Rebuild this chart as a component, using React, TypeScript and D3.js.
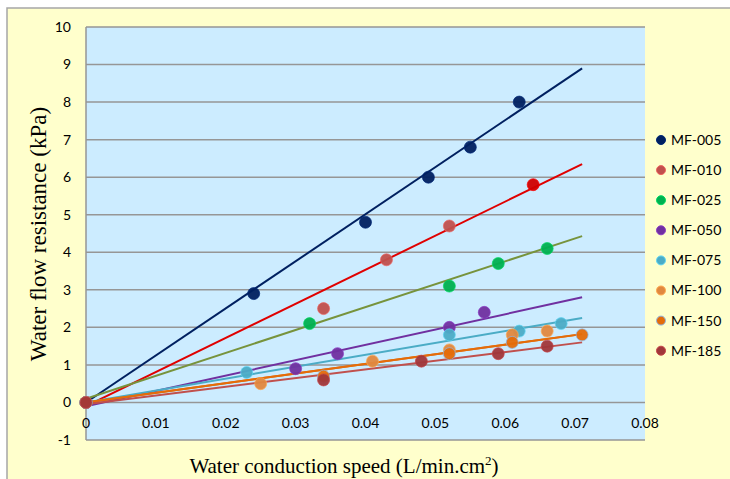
import React from "react";
import * as d3 from "d3";

const seriesNames = ["MF-005", "MF-010", "MF-025", "MF-050", "MF-075", "MF-100", "MF-150", "MF-185"];
const pointColors = ["#002060", "#C0504D", "#00B050", "#7030A0", "#4BACC6", "#E0883F", "#E46C0A", "#A0373A"];
const lineColors = ["#002060", "#E00000", "#77933C", "#7030A0", "#4BACC6", "#E46C0A", "#E46C0A", "#C0504D"];

const xs005 = [0, 0.024, 0.040, 0.049, 0.055, 0.062];
const ys005 = [0, 2.9, 4.8, 6.0, 6.8, 8.0];
const xs010 = [0, 0.034, 0.043, 0.052, 0.064];
const ys010 = [0, 2.5, 3.8, 4.7, 5.8];
const xs025 = [0, 0.032, 0.052, 0.059, 0.066];
const ys025 = [0, 2.1, 3.1, 3.7, 4.1];
const xs050 = [0, 0.030, 0.036, 0.052, 0.057];
const ys050 = [0, 0.9, 1.3, 2.0, 2.4];
const xs075 = [0, 0.023, 0.052, 0.062, 0.068];
const ys075 = [0, 0.8, 1.8, 1.9, 2.1];
const xs100 = [0, 0.025, 0.041, 0.052, 0.061, 0.066];
const ys100 = [0, 0.5, 1.1, 1.4, 1.8, 1.9];
const xs150 = [0, 0.034, 0.052, 0.061, 0.071];
const ys150 = [0, 0.7, 1.3, 1.6, 1.8];
const xs185 = [0, 0.034, 0.048, 0.059, 0.066];
const ys185 = [0, 0.6, 1.1, 1.3, 1.5];

const seriesX = [xs005, xs010, xs025, xs050, xs075, xs100, xs150, xs185];
const seriesY = [ys005, ys010, ys025, ys050, ys075, ys100, ys150, ys185];

// trendline values at x = 0 and x = trendEndX
const trendEndX = 0.071;
const trendStart = [0.0, -0.1, 0.1, -0.1, 0.0, 0.0, 0.0, -0.05];
const trendEnd = [8.9, 6.35, 4.43, 2.8, 2.25, 1.82, 1.82, 1.6];

// special: last MF-010 point drawn in bright red
const highlightColor = "#D00000";

const xTicks = [0, 0.01, 0.02, 0.03, 0.04, 0.05, 0.06, 0.07, 0.08];
const yTicks = [-1, 0, 1, 2, 3, 4, 5, 6, 7, 8, 9, 10];

const W = 730;
const H = 479;
const plotLeft = 86;
const plotRight = 645;
const plotTop = 27;
const plotBottom = 440;

export default function App() {
  const x = d3.scaleLinear().domain([0, 0.08]).range([plotLeft, plotRight]);
  const y = d3.scaleLinear().domain([-1, 10]).range([plotBottom, plotTop]);
  const line = d3
    .line<[number, number]>()
    .x((d) => x(d[0]))
    .y((d) => y(d[1]));

  const sansFont = "Lato, 'Open Sans', sans-serif";
  const serifFont = "'Liberation Serif', 'DejaVu Serif', serif";

  return (
    <svg
      width={W}
      height={H}
      style={{ position: "absolute", left: 0, top: 0, display: "block" }}
    >
      <rect x={0} y={0} width={W} height={H} fill="#ffffff" />
      <rect x={7} y={8} width={W} height={H} fill="#FFFFCC" stroke="#A6A6A6" strokeWidth={1.5} />
      <rect
        x={plotLeft}
        y={plotTop}
        width={plotRight - plotLeft}
        height={plotBottom - plotTop}
        fill="#CCECFF"
      />
      {yTicks.map((t) => (
        <line
          key={"g" + t}
          x1={plotLeft}
          x2={plotRight}
          y1={y(t)}
          y2={y(t)}
          stroke="#969696"
          strokeWidth={1.5}
        />
      ))}
      <line x1={plotLeft} x2={plotLeft} y1={plotTop} y2={plotBottom} stroke="#969696" strokeWidth={1.5} />
      {yTicks.map((t) => (
        <text
          key={"yl" + t}
          x={71}
          y={y(t)}
          dy="0.35em"
          textAnchor="end"
          fontFamily={sansFont}
          fontSize={14}
          fill="#000"
        >
          {t}
        </text>
      ))}
      {xTicks.map((t) => (
        <text
          key={"xl" + t}
          x={x(t)}
          y={y(0) + 21}
          dy="0.35em"
          textAnchor="middle"
          fontFamily={sansFont}
          fontSize={14}
          fill="#000"
        >
          {t === 0 ? "0" : d3.format(".2f")(t)}
        </text>
      ))}
      {seriesNames.map((n, i) => (
        <path
          key={"tl" + n}
          d={line([
            [0, trendStart[i]],
            [trendEndX, trendEnd[i]],
          ]) || ""}
          stroke={lineColors[i]}
          strokeWidth={2}
          fill="none"
        />
      ))}
      {seriesNames.map((n, i) =>
        seriesX[i].map((xv, j) => {
          const c =
            i === 1 && j === seriesX[i].length - 1 ? highlightColor : pointColors[i];
          return (
            <circle
              key={n + "-" + j}
              cx={x(xv)}
              cy={y(seriesY[i][j])}
              r={6}
              fill={c}
              fillOpacity={0.95}
              stroke={i === 6 ? "#8EB4E3" : d3.color(c)!.brighter(0.6).formatHex()}
              strokeOpacity={0.7}
              strokeWidth={1}
            />
          );
        })
      )}
      {seriesNames.map((n, i) => (
        <g key={"lg" + n} transform={`translate(0, ${140 + i * 30.1})`}>
          <circle
            cx={661}
            cy={0}
            r={4.5}
            fill={pointColors[i]}
            stroke={i === 6 ? "#8EB4E3" : d3.color(pointColors[i])!.brighter(0.6).formatHex()}
            strokeWidth={1}
          />
          <text x={671} y={0} dy="0.35em" fontFamily={sansFont} fontSize={14} fill="#000">
            {n}
          </text>
        </g>
      ))}
      <text
        transform={`translate(38, ${234}) rotate(-90)`}
        textAnchor="middle"
        dy="0.35em"
        fontFamily={serifFont}
        fontSize={23}
        fill="#000"
      >
        Water flow resistance (kPa)
      </text>
      <text
        x={344}
        y={473}
        textAnchor="middle"
        fontFamily={serifFont}
        fontSize={21}
        fill="#000"
      >
        Water conduction speed (L/min.cm
        <tspan dy={-8} fontSize={13}>
          2
        </tspan>
        <tspan dy={8}>)</tspan>
      </text>
    </svg>
  );
}
